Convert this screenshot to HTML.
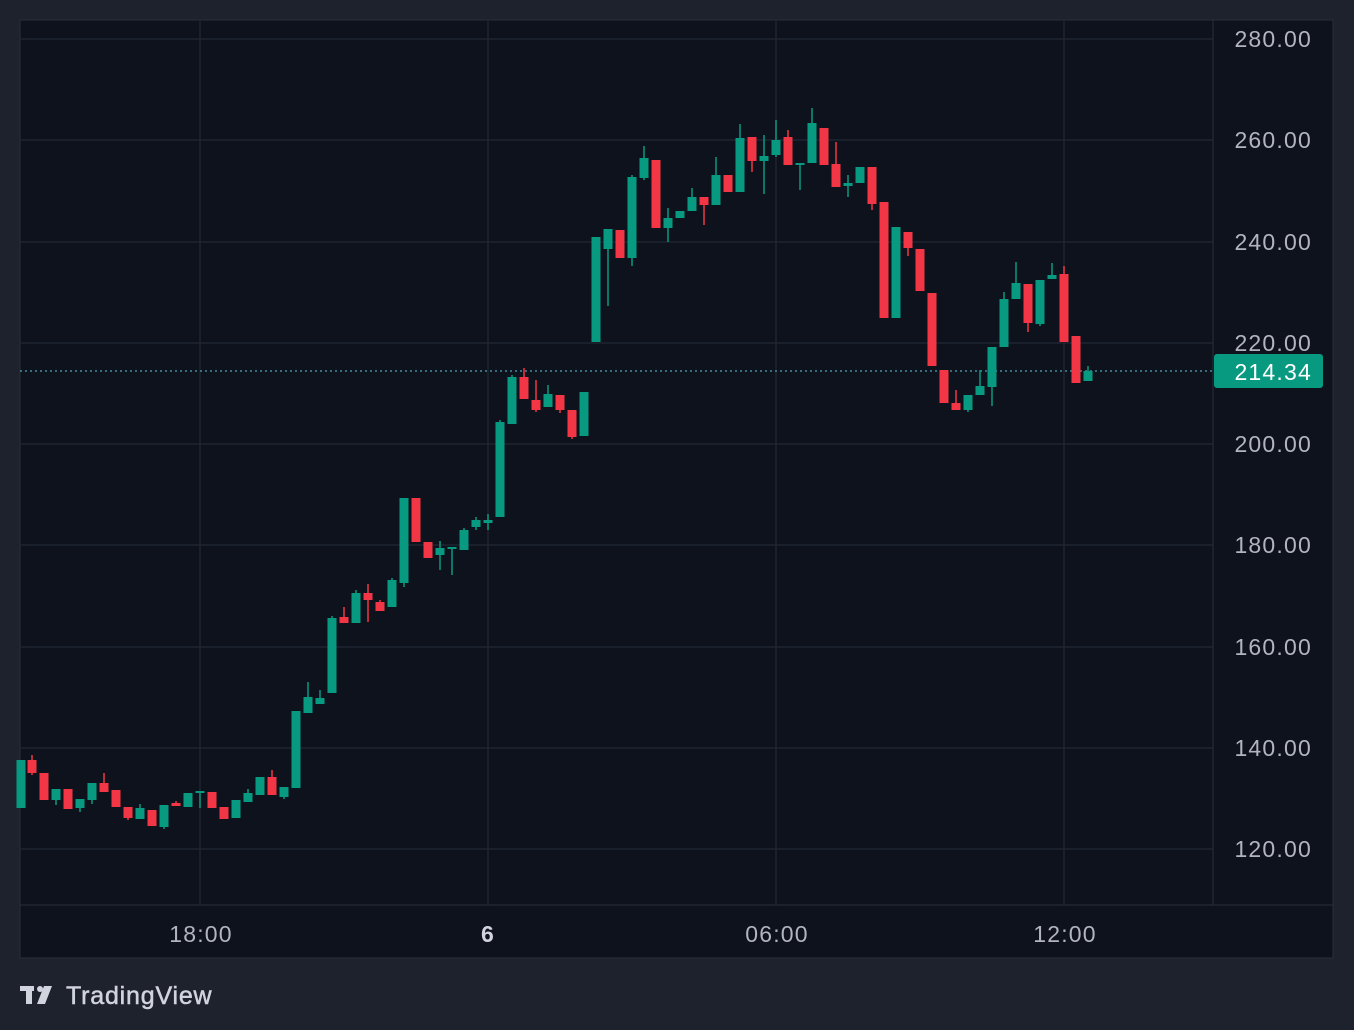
<!DOCTYPE html>
<html><head><meta charset="utf-8"><style>
html,body{margin:0;padding:0;background:#1e222d;width:1354px;height:1030px;overflow:hidden;font-family:"Liberation Sans",sans-serif}
</style></head><body>
<svg width="1354" height="1030" xmlns="http://www.w3.org/2000/svg" font-family="Liberation Sans, sans-serif">
<rect x="0" y="0" width="1354" height="1030" fill="#1e222d"/>
<rect x="20" y="20" width="1313" height="938" fill="#0e121c" stroke="#2a2e39" stroke-width="1"/>
<g stroke="#1f2430" stroke-width="1.5">
<line x1="20" y1="39" x2="1213" y2="39"/><line x1="20" y1="140" x2="1213" y2="140"/>
<line x1="20" y1="242" x2="1213" y2="242"/><line x1="20" y1="343" x2="1213" y2="343"/>
<line x1="20" y1="444" x2="1213" y2="444"/><line x1="20" y1="545" x2="1213" y2="545"/>
<line x1="20" y1="647" x2="1213" y2="647"/><line x1="20" y1="748" x2="1213" y2="748"/>
<line x1="20" y1="849" x2="1213" y2="849"/>
<line x1="200" y1="20" x2="200" y2="905"/><line x1="488" y1="20" x2="488" y2="905"/>
<line x1="776" y1="20" x2="776" y2="905"/><line x1="1064" y1="20" x2="1064" y2="905"/>
</g>
<line x1="20" y1="905" x2="1333" y2="905" stroke="#2a2e39"/>
<line x1="1213" y1="20" x2="1213" y2="905" stroke="#2a2e39"/>
<line x1="20" y1="371" x2="1213" y2="371" stroke="#4fa3b5" stroke-width="1.3" stroke-dasharray="2,3"/>
<g id="c"></g>
<g fill="#b2b5be" font-size="23" text-anchor="end" letter-spacing="1.2">
<text x="1312" y="47">280.00</text><text x="1312" y="148">260.00</text>
<text x="1312" y="250">240.00</text><text x="1312" y="351">220.00</text>
<text x="1312" y="452">200.00</text><text x="1312" y="553">180.00</text>
<text x="1312" y="655">160.00</text><text x="1312" y="756">140.00</text>
<text x="1312" y="857">120.00</text>
</g>
<rect x="1214" y="354" width="109" height="34" rx="3" fill="#089981"/>
<text x="1312" y="380" fill="#fff" font-size="23" text-anchor="end" letter-spacing="1.2">214.34</text>
<g fill="#b2b5be" font-size="23" text-anchor="middle" letter-spacing="1.2">
<text x="201" y="942">18:00</text><text x="488" y="942" font-weight="bold" fill="#d1d4dc">6</text>
<text x="777" y="942">06:00</text><text x="1065" y="942">12:00</text>
</g>
<g fill="#d1d4dc">
<rect x="20" y="986" width="14" height="5"/><rect x="26" y="986" width="6" height="18"/>
<circle cx="40" cy="989" r="3"/><polygon points="44,986 52,986 45,1004 37,1004"/>
<text x="66" y="1004" font-size="25" letter-spacing="0.8" stroke="#d1d4dc" stroke-width="0.5">TradingView</text>
</g>
</svg>
<script>
const d=[
[21,760,808,760,808,1],[32,760,773,755,775,0],[44,773,800,773,800,0],[56,789,800,789,805,1],[68,789,809,789,809,0],
[80,799,808,799,812,1],[92,783,800,783,804,1],[104,783,792,773,792,0],[116,790,807,790,807,0],[128,807,818,807,820,0],
[140,808,819,804,819,1],[152,810,826,810,826,0],[164,805,827,805,829,1],[176,803,806,801,806,0],[188,793,807,793,807,1],
[200,791,792,791,808,1],[212,792,808,792,808,0],[224,807,819,807,819,0],[236,800,818,800,818,1],[248,793,802,789,802,1],
[260,777,795,777,795,1],[272,777,795,770,795,0],[284,787,797,787,799,1],[296,711,788,711,788,1],[308,697,713,682,713,1],
[320,698,704,690,704,1],[332,618,693,616,693,1],[344,617,623,607,623,0],[356,593,623,590,623,1],[368,593,600,584,622,0],
[380,602,611,600,611,0],[392,580,607,578,607,1],[404,498,583,498,587,1],[416,498,542,498,542,0],[428,542,558,542,558,0],
[440,548,555,541,570,1],[452,547,549,547,575,1],[464,530,550,528,550,1],[476,520,527,517,530,1],[488,520,523,514,530,1],
[500,422,517,420,517,1],[512,377,424,375,424,1],[524,377,399,368,399,0],[536,400,410,380,412,0],[548,394,407,385,407,1],
[560,395,410,395,413,0],[572,410,437,410,439,0],[584,392,436,392,436,1],[596,237,342,237,342,1],[608,229,249,229,306,1],
[620,230,258,230,258,0],[632,177,258,175,266,1],[644,158,178,146,180,1],[656,160,228,160,228,0],[668,218,228,208,242,1],
[680,211,218,211,218,1],[692,197,211,188,211,1],[704,197,205,197,225,0],[716,175,205,157,205,1],[728,175,192,175,192,0],
[740,138,192,124,192,1],[752,137,161,137,172,0],[764,156,161,135,194,1],[776,140,155,120,157,1],[788,137,165,130,165,0],
[800,163,164,163,190,1],[812,123,163,108,163,1],[824,128,165,128,165,0],[836,164,187,142,187,0],[848,183,186,175,197,1],
[860,167,183,167,183,1],[872,167,204,167,210,0],[884,202,318,202,318,0],[896,227,318,227,318,1],[908,232,248,232,256,0],
[920,249,291,249,291,0],[932,293,366,293,366,0],[944,370,403,370,403,0],[956,403,410,390,410,0],[968,395,410,395,412,1],
[980,386,395,370,395,1],[992,347,387,347,406,1],[1004,299,347,292,347,1],[1016,283,299,262,299,1],[1028,284,323,284,332,0],
[1040,280,324,280,326,1],[1052,275,279,263,279,1],[1064,274,342,266,342,0],[1076,336,383,336,383,0],[1088,371,381,366,381,1]];
let s='';
for(const [x,t,b,h,l,g] of d){const c=g?'#089981':'#f23645';
s+=`<line x1="${x}" y1="${h}" x2="${x}" y2="${l}" stroke="${c}" stroke-width="1.5"/>`;
s+=`<rect x="${x-4.5}" y="${t}" width="9" height="${Math.max(2,b-t)}" fill="${c}"/>`;}
document.getElementById('c').innerHTML=s;
</script>
</body></html>
